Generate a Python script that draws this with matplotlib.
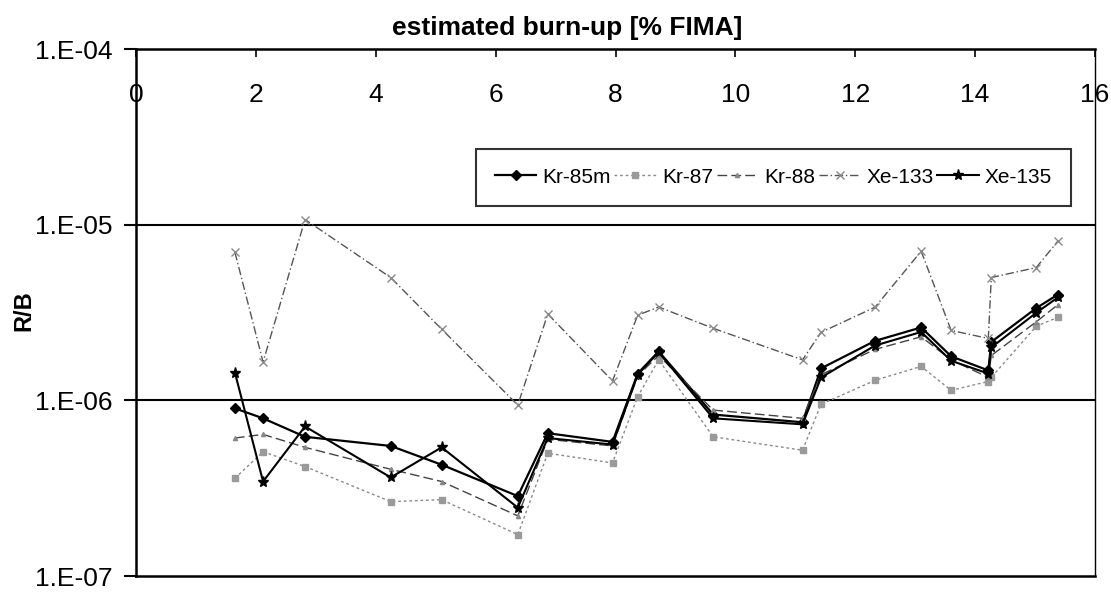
import matplotlib
matplotlib.use("Agg")
import matplotlib.pyplot as plt
import numpy as np

plt.rcParams['font.family'] = ['Liberation Sans', 'DejaVu Sans']

# burn-up [% FIMA]
burnup = [1.65, 2.12, 2.82, 4.25, 5.1, 6.37, 6.87, 7.95, 8.37, 8.72,
          9.63, 11.12, 11.43, 12.33, 13.1, 13.6, 14.22, 14.27, 15.02, 15.38]

# R/B values per nuclide
kr85m = [9.0e-7, 7.9e-7, 6.2e-7, 5.5e-7, 4.3e-7, 2.85e-7, 6.5e-7, 5.8e-7, 1.42e-6, 1.9e-6,
         8.3e-7, 7.5e-7, 1.52e-6, 2.18e-6, 2.6e-6, 1.78e-6, 1.48e-6, 2.15e-6, 3.35e-6, 4.0e-6]
kr87 = [3.6e-7, 5.1e-7, 4.2e-7, 2.65e-7, 2.72e-7, 1.72e-7, 5.0e-7, 4.4e-7, 1.05e-6, 1.7e-6,
        6.2e-7, 5.2e-7, 9.5e-7, 1.3e-6, 1.56e-6, 1.14e-6, 1.28e-6, 1.35e-6, 2.64e-6, 2.97e-6]
kr88 = [6.1e-7, 6.4e-7, 5.4e-7, 4.05e-7, 3.45e-7, 2.2e-7, 6.0e-7, 5.5e-7, 1.38e-6, 1.8e-6,
        8.8e-7, 7.9e-7, 1.4e-6, 1.95e-6, 2.3e-6, 1.7e-6, 1.35e-6, 1.8e-6, 2.8e-6, 3.5e-6]
xe133 = [6.97e-6, 1.65e-6, 1.07e-5, 5.0e-6, 2.54e-6, 9.4e-7, 3.1e-6, 1.29e-6, 3.05e-6, 3.4e-6,
         2.57e-6, 1.7e-6, 2.44e-6, 3.39e-6, 7.06e-6, 2.5e-6, 2.25e-6, 5.0e-6, 5.7e-6, 8.05e-6]
xe135 = [1.44e-6, 3.45e-7, 7.1e-7, 3.64e-7, 5.4e-7, 2.45e-7, 6.1e-7, 5.6e-7, 1.4e-6, 1.88e-6,
         7.9e-7, 7.3e-7, 1.35e-6, 2.05e-6, 2.45e-6, 1.68e-6, 1.42e-6, 2.0e-6, 3.15e-6, 3.85e-6]

xticks = [0, 2, 4, 6, 8, 10, 12, 14, 16]
yticks = [1e-7, 1e-6, 1e-5, 1e-4]
ytick_labels = ['1.E-07', '1.E-06', '1.E-05', '1.E-04']

fig = plt.figure(figsize=(11.11, 5.92), dpi=100)
ax = fig.add_axes([136/1111, 1 - 576/592, 959/1111, 527/592])

ax.plot(burnup, kr85m, color='black', lw=1.6, marker='D', ms=5.5, label='Kr-85m')
ax.plot(burnup, kr87, color='#8a8a8a', lw=1.0, ls=(0, (2, 2)), marker='s', ms=4,
        mfc='#9a9a9a', mec='#9a9a9a', label='Kr-87')
ax.plot(burnup, kr88, color='#444444', lw=1.0, ls=(0, (7, 3)), marker='^', ms=3,
        mfc='#888888', mec='#888888', label='Kr-88')
ax.plot(burnup, xe133, color='#555555', lw=1.0, ls=(0, (6, 2, 1, 2)), marker='x', ms=6,
        mec='#8a8a8a', label='Xe-133')
ax.plot(burnup, xe135, color='black', lw=1.5, marker='*', ms=8, label='Xe-135')

ax.set_yscale('log')
ax.set_ylim(1e-7, 1e-4)
ax.set_xlim(0, 16)

for g in [1e-6, 1e-5]:
    ax.axhline(g, color='black', lw=1.5, zorder=0)

ax.set_yticks(yticks)
ax.set_yticklabels(ytick_labels)
ax.yaxis.set_minor_locator(matplotlib.ticker.NullLocator())
ax.tick_params(axis='y', direction='out', length=9, width=1.5, labelsize=19, pad=8)

ax.xaxis.tick_top()
ax.set_xticks(xticks)
ax.set_xticklabels([str(t) for t in xticks])
ax.tick_params(axis='x', direction='in', length=6, width=1.2, labelsize=19, pad=-42)

for side in ['left', 'top', 'bottom']:
    ax.spines[side].set_linewidth(1.8)
ax.spines['right'].set_linewidth(1.0)

fig.text(24/1111, 1 - 311/592, 'R/B', rotation=90, ha='center', va='center',
         fontsize=17, fontweight='bold')
fig.text(567/1111, 1 - 28/592, 'estimated burn-up [% FIMA]', ha='center', va='center',
         fontsize=19, fontweight='bold')

leg = ax.legend(loc='upper left', bbox_to_anchor=(476/1111, 1 - 209/592, (1071-476)/1111, 60/592),
                bbox_transform=fig.transFigure, mode='expand', ncol=5, fontsize=15,
                frameon=True, fancybox=False, edgecolor='black', handlelength=2.0,
                handletextpad=0.3, columnspacing=0.8, borderaxespad=0, borderpad=0.9)
leg.get_frame().set_linewidth(1.5)

fig.savefig('out.png', dpi=100)
